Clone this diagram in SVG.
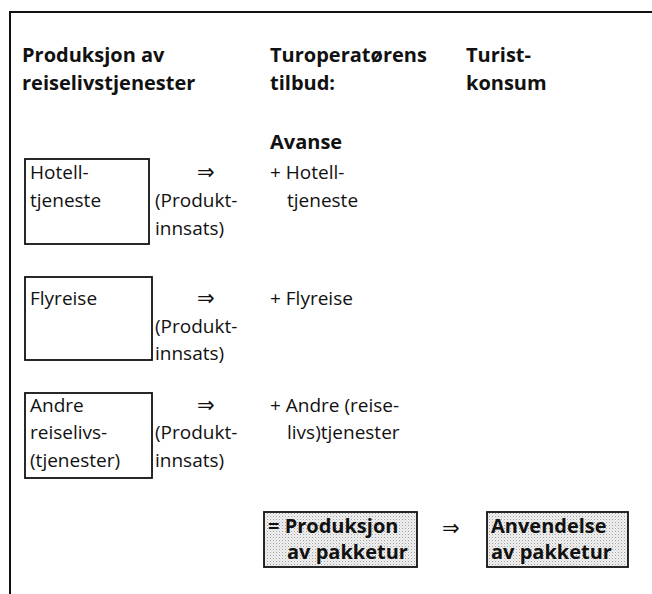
<svg xmlns="http://www.w3.org/2000/svg" width="652" height="594" viewBox="0 0 652 594">
<defs>
<pattern id="stip" width="3" height="3" patternUnits="userSpaceOnUse">
<rect width="3" height="3" fill="#f0f0f0"/>
<rect x="0" y="0" width="1" height="1" fill="#a0a0a0"/>
<rect x="1.5" y="1.5" width="1" height="1" fill="#c8c8c8"/>
</pattern>
</defs>
<style>
text{font-family:"Open Sans","Liberation Sans",sans-serif;font-size:19px;fill:#111}
.b{font-weight:bold;font-size:20px}
.arr{font-family:"DejaVu Sans",sans-serif;font-size:21px}
.box{fill:none;stroke:#111;stroke-width:1.8}
.sbox{fill:url(#stip);stroke:#111;stroke-width:1.8}
.frame{fill:none;stroke:#111;stroke-width:2}
</style>
<path class="frame" d="M10,594 V12 H652"/>
<g id="headers">
<text class="b" x="22" y="62">Produksjon av</text>
<text class="b" x="22" y="90">reiselivstjenester</text>
<text class="b" x="270" y="62">Turoperatørens</text>
<text class="b" x="270" y="90">tilbud:</text>
<text class="b" x="466" y="62">Turist-</text>
<text class="b" x="466" y="90">konsum</text>
<text class="b" x="270" y="149">Avanse</text>
</g>
<g id="hotell">
<rect class="box" x="25" y="159" width="124" height="85"/>
<text x="30" y="179">Hotell-</text>
<text x="30" y="207">tjeneste</text>
</g>
<g id="fly">
<rect class="box" x="25" y="277" width="127" height="83"/>
<text x="30" y="305">Flyreise</text>
</g>
<g id="andre">
<rect class="box" x="25" y="393" width="127" height="85"/>
<text x="30" y="412">Andre</text>
<text x="30" y="439">reiselivs-</text>
<text x="30" y="467">(tjenester)</text>
</g>
<g id="connectors">
<text class="arr" x="197" y="179">⇒</text>
<text x="155" y="207">(Produkt-</text>
<text x="155" y="235">innsats)</text>
<text class="arr" x="197" y="305">⇒</text>
<text x="155" y="333">(Produkt-</text>
<text x="155" y="360">innsats)</text>
<text class="arr" x="197" y="412">⇒</text>
<text x="155" y="439">(Produkt-</text>
<text x="155" y="467">innsats)</text>
<text class="arr" x="442" y="535">⇒</text>
</g>
<g id="tilbud">
<text x="270" y="179">+ Hotell-</text>
<text x="287" y="207">tjeneste</text>
<text x="270" y="305">+ Flyreise</text>
<text x="270" y="412">+ Andre (reise-</text>
<text x="287" y="439">livs)tjenester</text>
</g>
<g id="pakketur">
<rect class="sbox" x="264" y="512" width="153" height="55"/>
<text class="b" x="268" y="533">= Produksjon</text>
<text class="b" x="287" y="559">av pakketur</text>
</g>
<g id="anvendelse">
<rect class="sbox" x="487" y="512" width="141" height="55"/>
<text class="b" x="491" y="533">Anvendelse</text>
<text class="b" x="491" y="559">av pakketur</text>
</g>
</svg>
